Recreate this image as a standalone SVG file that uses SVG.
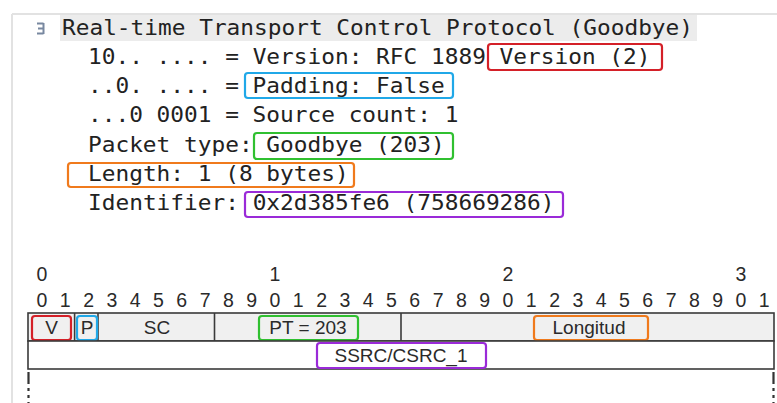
<svg xmlns="http://www.w3.org/2000/svg" width="777" height="403" viewBox="0 0 777 403">
<style>
.mono{font-family:"DejaVu Sans Mono","Liberation Mono",monospace;font-size:20.5px;fill:#222}
.sans{font-family:"Liberation Sans",Arial,sans-serif;fill:#2a2a2a}
.num{font-size:19.5px;text-anchor:middle}
.lbl{font-size:19px;text-anchor:middle}
.hl{fill:none;stroke-width:2.2}
.red{stroke:#d42028}.blue{stroke:#20a8e8}.green{stroke:#30c030}.orange{stroke:#f07a1c}.purple{stroke:#9a2ad8}
.cell{stroke:#3a3a3a;stroke-width:1.6}
.dash{stroke:#333;stroke-width:2.2;stroke-dasharray:12 4 3 4 3 4}
</style>
<rect width="777" height="403" fill="#fff"/>
<g id="frame">
<line x1="12" y1="14" x2="777" y2="14" stroke="#e2e2e2" stroke-width="2"/>
<line x1="12" y1="14" x2="12" y2="403" stroke="#e2e2e2" stroke-width="2"/>
</g>
<g id="tree">
<rect x="60" y="15" width="637" height="26" fill="#ececec"/>
<path d="M37 23.5h6.5M38 28.5h5.5M37 33.5h6.5M43.5 23v11" fill="none" stroke="#7888a0" stroke-width="2"/>
<text class="mono" x="62" y="34.5" textLength="631" lengthAdjust="spacingAndGlyphs">Real-time Transport Control Protocol (Goodbye)</text>
<text class="mono" x="88" y="63.75" textLength="562.5" lengthAdjust="spacingAndGlyphs">10.. .... = Version: RFC 1889 Version (2)</text>
<text class="mono" x="88" y="93" textLength="356.7" lengthAdjust="spacingAndGlyphs">..0. .... = Padding: False</text>
<text class="mono" x="88" y="122.25" textLength="370.4" lengthAdjust="spacingAndGlyphs">...0 0001 = Source count: 1</text>
<text class="mono" x="88" y="151.5" textLength="356.7" lengthAdjust="spacingAndGlyphs">Packet type: Goodbye (203)</text>
<text class="mono" x="88" y="180.75" textLength="260.7" lengthAdjust="spacingAndGlyphs">Length: 1 (8 bytes)</text>
<text class="mono" x="88" y="210" textLength="466.5" lengthAdjust="spacingAndGlyphs">Identifier: 0x2d385fe6 (758669286)</text>
</g>
<g id="tree-highlights">
<rect class="hl red" x="488" y="44" width="174" height="26" rx="3"/>
<rect class="hl blue" x="245" y="73" width="208" height="25" rx="3"/>
<rect class="hl green" x="254" y="133" width="199" height="26" rx="3"/>
<rect class="hl orange" x="68" y="163" width="286" height="24" rx="3"/>
<rect class="hl purple" x="245" y="192" width="318" height="25" rx="3"/>
</g>
<g id="bit-numbers" class="sans num">
<text x="42" y="281">0</text><text x="275" y="281">1</text><text x="508" y="281">2</text><text x="741" y="281">3</text>
<text x="42" y="307">0</text><text x="65.3" y="307">1</text><text x="88.6" y="307">2</text><text x="111.9" y="307">3</text>
<text x="135.2" y="307">4</text><text x="158.5" y="307">5</text><text x="181.8" y="307">6</text><text x="205.1" y="307">7</text>
<text x="228.4" y="307">8</text><text x="251.7" y="307">9</text><text x="275" y="307">0</text><text x="298.3" y="307">1</text>
<text x="321.6" y="307">2</text><text x="344.9" y="307">3</text><text x="368.2" y="307">4</text><text x="391.5" y="307">5</text>
<text x="414.8" y="307">6</text><text x="438.1" y="307">7</text><text x="461.4" y="307">8</text><text x="484.7" y="307">9</text>
<text x="508" y="307">0</text><text x="531.3" y="307">1</text><text x="554.6" y="307">2</text><text x="577.9" y="307">3</text>
<text x="601.2" y="307">4</text><text x="624.5" y="307">5</text><text x="647.8" y="307">6</text><text x="671.1" y="307">7</text>
<text x="694.4" y="307">8</text><text x="717.7" y="307">9</text><text x="741" y="307">0</text><text x="764.3" y="307">1</text>
</g>
<g id="row1">
<rect class="cell" x="28" y="313" width="746" height="28" fill="#f0f0f0"/>
<line class="cell" x1="74.6" y1="313" x2="74.6" y2="341"/>
<line class="cell" x1="98" y1="313" x2="98" y2="341"/>
<line class="cell" x1="214.5" y1="313" x2="214.5" y2="341"/>
<line class="cell" x1="401" y1="313" x2="401" y2="341"/>
</g>
<g id="field-V"><rect class="hl red" x="32" y="316" width="39" height="24" rx="3"/><text class="sans lbl" x="51.5" y="334">V</text></g>
<g id="field-P"><rect class="hl blue" x="77" y="316" width="20" height="24" rx="3"/><text class="sans lbl" x="87" y="334">P</text></g>
<g id="field-SC"><text class="sans lbl" x="157" y="334">SC</text></g>
<g id="field-PT"><rect class="hl green" x="259" y="316" width="99" height="24" rx="3"/><text class="sans lbl" x="308" y="334">PT = 203</text></g>
<g id="field-Longitud"><rect class="hl orange" x="534" y="316" width="114" height="24" rx="3"/><text class="sans lbl" x="589" y="334">Longitud</text></g>
<g id="row2">
<rect class="cell" x="28" y="341" width="746" height="28" fill="#fff"/>
</g>
<g id="field-SSRC"><rect class="hl purple" x="317" y="343" width="169" height="25" rx="3"/><text class="sans lbl" x="401" y="362">SSRC/CSRC_1</text></g>
<g id="connectors">
<line class="dash" x1="28.5" y1="372" x2="28.5" y2="403"/>
<line class="dash" x1="773.5" y1="372" x2="773.5" y2="403"/>
</g>
</svg>
